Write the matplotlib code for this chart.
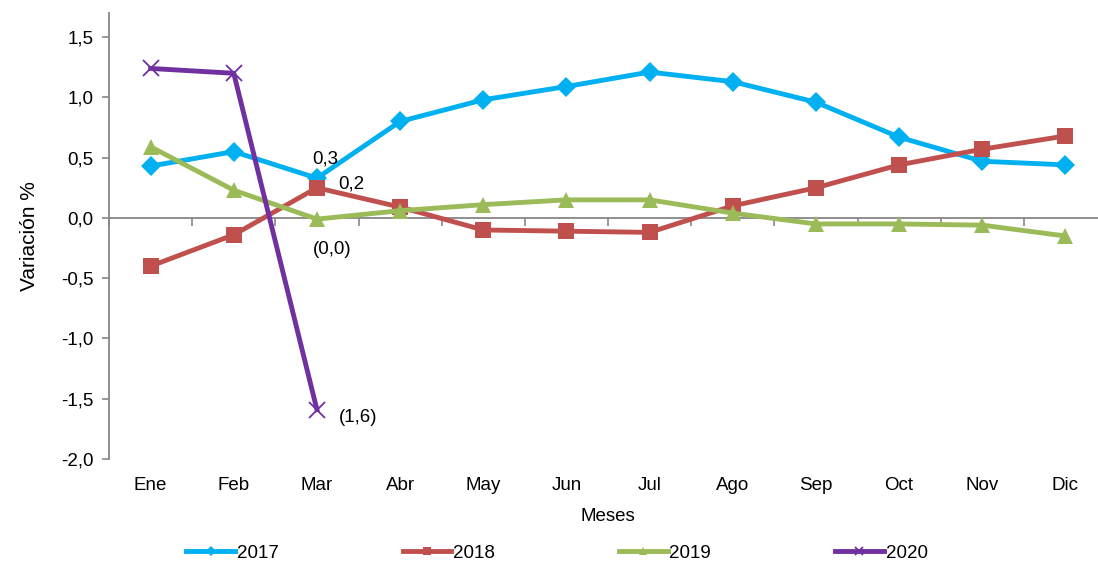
import numpy as np
import matplotlib.pyplot as plt
from matplotlib.ticker import FuncFormatter

meses = ['Ene', 'Feb', 'Mar', 'Abr', 'May', 'Jun', 'Jul', 'Ago', 'Sep', 'Oct', 'Nov', 'Dic']
v2017 = [0.43, 0.55, 0.33, 0.80, 0.98, 1.09, 1.21, 1.13, 0.96, 0.67, 0.47, 0.44]
v2018 = [-0.40, -0.14, 0.25, 0.09, -0.10, -0.11, -0.12, 0.10, 0.25, 0.44, 0.57, 0.68]
v2019 = [0.59, 0.23, -0.01, 0.06, 0.11, 0.15, 0.15, 0.04, -0.05, -0.05, -0.06, -0.15]
v2020 = [1.24, 1.20, -1.59]
yticks = [-2.0, -1.5, -1.0, -0.5, 0.0, 0.5, 1.0, 1.5]

# data labels at "Mar": (series, text, offset in points)
etiquetas = [
    ('2017', '0,3', (6, 14)),
    ('2018', '0,2', (25, 3)),
    ('2019', '(0,0)', (11, -22)),
    ('2020', '(1,6)', (30, -6)),
]

plt.rcParams['font.family'] = ['Liberation Sans', 'DejaVu Sans']
fs = 13.5
grey = '#868686'

fig = plt.figure(figsize=(10.98, 5.66), dpi=100)
ax = fig.add_axes([109 / 1098, 107 / 566, 998 / 1098, 446 / 566])

x = np.arange(len(meses))
series = {
    '2017': dict(y=v2017, color='#00B0F0', marker='D', ms=10, mew=0),
    '2018': dict(y=v2018, color='#C0504D', marker='s', ms=11.5, mew=0),
    '2019': dict(y=v2019, color='#9BBB59', marker='^', ms=12, mew=0),
    '2020': dict(y=v2020, color='#7030A0', marker='x', ms=12, mew=1.3),
}
for name, s in series.items():
    xs = x[:len(s['y'])]
    ax.plot(xs, s['y'], color=s['color'], lw=3.5, marker=s['marker'],
            ms=s['ms'], mew=s['mew'], mec=s['color'], label=name,
            solid_joinstyle='round', zorder=3)

for name, txt, off in etiquetas:
    yv = series[name]['y'][2]
    ax.annotate(txt, xy=(2, yv), xytext=off, textcoords='offset points',
                ha='center', va='center', fontsize=fs, zorder=5)

ax.set_xlim(-0.5, len(meses) - 0.5)
ax.set_ylim(-2.0, 1.7)
ax.set_yticks(yticks)
ax.yaxis.set_major_formatter(FuncFormatter(lambda v, p: f'{v:.1f}'.replace('.', ',')))
ax.set_xticks(x)
ax.set_xticklabels(meses)
ax.tick_params(axis='x', length=0, pad=13, labelsize=fs)
ax.tick_params(axis='y', direction='out', length=5, width=1.2, color=grey, labelsize=fs, pad=6)

for sp in ['top', 'right', 'bottom']:
    ax.spines[sp].set_visible(False)
ax.spines['left'].set_color(grey)
ax.spines['left'].set_linewidth(1.3)

# category axis crossing at zero, with ticks between categories
sec = ax.secondary_xaxis(0, transform=ax.transData)
sec.set_alignment('bottom')
sec.set_xticks(np.arange(len(meses) + 1) - 0.5)
sec.tick_params(axis='x', direction='out', length=6, width=1.2, color=grey, labelbottom=False, labeltop=False)
sec.spines['bottom'].set_color(grey)
sec.spines['bottom'].set_linewidth(1.3)
sec.spines['top'].set_visible(False)
sec.set_zorder(1)

ax.set_xlabel('Meses', fontsize=fs, labelpad=10)
ax.set_ylabel('Variación %', fontsize=15, labelpad=16)

fig.legend(loc='center', bbox_to_anchor=(557 / 1098, 0.023), ncol=4, frameon=False,
           fontsize=fs, handlelength=2.6, handletextpad=0.1, columnspacing=6.6,
           markerscale=0.5)

fig.savefig('out.png', dpi=100)
